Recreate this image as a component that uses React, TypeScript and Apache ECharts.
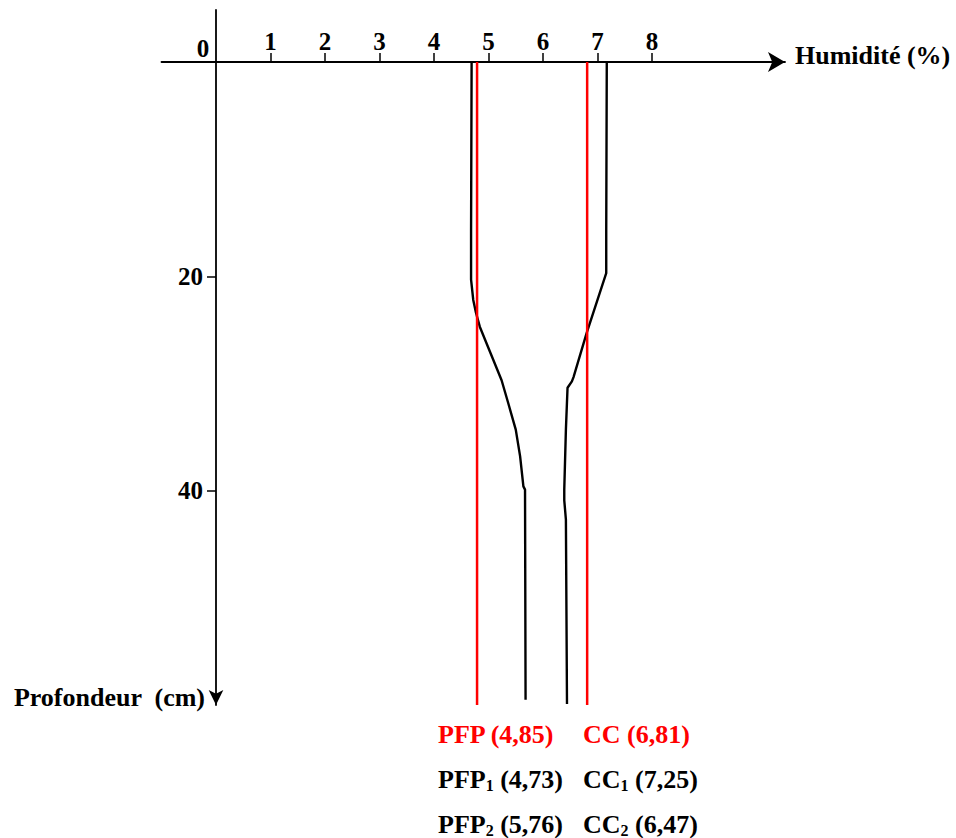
import React, { useEffect, useRef } from "react";
import * as echarts from "echarts";

// Axis ticks / labels
const xTickValues = [1, 2, 3, 4, 5, 6, 7, 8];
const xLabelValues = [0, 1, 2, 3, 4, 5, 6, 7, 8];
const yLabelValues = [20, 40];

// Profile 1 (PFP1 -> PFP2): humidity (%) vs depth (cm)
const profile1Humidity = [4.69, 4.68, 4.68, 4.72, 4.77, 4.84, 5.04, 5.24, 5.36, 5.5, 5.58, 5.64, 5.67, 5.68];
const profile1Depth = [0, 15.7, 20.3, 22.2, 23.4, 24.7, 27.2, 29.7, 31.8, 34.3, 36.8, 39.6, 39.9, 59.5];

// Profile 2 (CC1 -> CC2)
const profile2Humidity = [7.17, 7.16, 7.16, 6.8, 6.56, 6.53, 6.45, 6.42, 6.39, 6.39, 6.42, 6.44];
const profile2Depth = [0, 15.7, 19.7, 25.3, 29.4, 29.8, 30.4, 34.3, 39.9, 40.9, 42.7, 59.9];

// Reference vertical lines (red)
const pfpValue = 4.79;
const ccValue = 6.81;
const refDepthRange = [0, 60];

// Legend texts under the chart
const row1 = ["PFP (4,85)", "CC (6,81)"];
const row2 = [["PFP", "1", " (4,73)"], ["CC", "1", " (7,25)"]];
const row3 = [["PFP", "2", " (5,76)"], ["CC", "2", " (6,47)"]];

const FONT = '"Liberation Serif", "Times New Roman", serif';

function zip(xs: number[], ys: number[]) {
  return xs.map((x, i) => [x, ys[i]]);
}

export default function App() {
  const ref = useRef<HTMLDivElement>(null);
  useEffect(() => {
    if (!ref.current) return;
    const chart = echarts.init(ref.current, null, { renderer: "svg" });
    const richBase = {
      b: { fontFamily: FONT, fontWeight: "bold", fontSize: 26, lineHeight: 28, fill: "#000" },
      s: { fontFamily: FONT, fontWeight: "bold", fontSize: 16, lineHeight: 16, verticalAlign: "bottom", fill: "#000" },
    };
    const subText = (parts: string[]) => `{b|${parts[0]}}{s|${parts[1]}}{b|${parts[2]}}`;
    const col1 = 438;
    const col2 = 583;
    const plainStyle = (text: string, color: string) => ({
      text,
      fill: color,
      fontFamily: FONT,
      fontWeight: "bold",
      fontSize: 26,
      align: "left",
      verticalAlign: "middle",
    });
    const option: any = {
      animation: false,
      grid: { left: 161.5, right: 171, top: 10, bottom: 133, outerBoundsMode: "none", containLabel: false },
      xAxis: {
        type: "value",
        position: "top",
        min: -1,
        max: 10.44,
        axisLine: {
          onZero: true,
          symbol: ["none", "arrow"],
          symbolSize: [15, 17],
          lineStyle: { color: "#000", width: 1.8 },
        },
        axisTick: { show: true, length: 9, customValues: xTickValues, lineStyle: { color: "#000", width: 1.5 } },
        axisLabel: {
          customValues: xLabelValues,
          margin: -51,
          color: "#000",
          fontFamily: FONT,
          fontWeight: "bold",
          fontSize: 25,
          formatter: (v: number) => (v === 0 ? `{z|0}` : `{n|${v}}`),
          rich: {
            z: { fontFamily: FONT, fontWeight: "bold", fontSize: 25, color: "#000", padding: [0, 26, 0, 0] },
            n: { fontFamily: FONT, fontWeight: "bold", fontSize: 25, color: "#000", padding: [0, 0, 7, 0] },
          },
        },
        splitLine: { show: false },
        name: "Humidité (%)",
        nameLocation: "end",
        nameGap: 10,
        nameMoveOverlap: false,
        nameTextStyle: {
          color: "#000",
          fontFamily: FONT,
          fontWeight: "bold",
          fontSize: 26,
          align: "left",
          verticalAlign: "bottom",
          lineHeight: 12,
        },
      },
      yAxis: {
        type: "value",
        inverse: true,
        min: -4.85,
        max: 60,
        axisLine: {
          onZero: true,
          symbol: ["arrow", "none"],
          symbolSize: [11, 15],
          lineStyle: { color: "#000", width: 1.8 },
        },
        axisTick: { show: true, length: 9, customValues: yLabelValues, lineStyle: { color: "#000", width: 1.5 } },
        axisLabel: {
          customValues: yLabelValues,
          margin: -41.5,
          color: "#000",
          fontFamily: FONT,
          fontWeight: "bold",
          fontSize: 25,
        },
        splitLine: { show: false },
        name: "Profondeur  (cm)",
        nameLocation: "end",
        nameGap: -8,
        nameMoveOverlap: false,
        nameTextStyle: {
          color: "#000",
          fontFamily: FONT,
          fontWeight: "bold",
          fontSize: 26,
          align: "right",
          verticalAlign: "middle",
          padding: [0, 11, 0, 0],
        },
      },
      series: [
        {
          type: "line",
          data: zip(profile1Humidity, profile1Depth),
          symbol: "none",
          lineStyle: { color: "#000", width: 2.4 },
        },
        {
          type: "line",
          data: zip(profile2Humidity, profile2Depth),
          symbol: "none",
          lineStyle: { color: "#000", width: 2.4 },
        },
        {
          type: "line",
          data: refDepthRange.map((d) => [pfpValue, d]),
          symbol: "none",
          lineStyle: { color: "#ff0000", width: 2.5 },
        },
        {
          type: "line",
          data: refDepthRange.map((d) => [ccValue, d]),
          symbol: "none",
          lineStyle: { color: "#ff0000", width: 2.5 },
        },
      ],
      graphic: [
        { type: "text", x: col1, y: 734, style: plainStyle(row1[0], "#ff0000") },
        { type: "text", x: col2, y: 734, style: plainStyle(row1[1], "#ff0000") },
        { type: "text", x: col1, y: 779, style: { text: subText(row2[0]), rich: richBase, align: "left", verticalAlign: "middle" } },
        { type: "text", x: col2, y: 779, style: { text: subText(row2[1]), rich: richBase, align: "left", verticalAlign: "middle" } },
        { type: "text", x: col1, y: 824, style: { text: subText(row3[0]), rich: richBase, align: "left", verticalAlign: "middle" } },
        { type: "text", x: col2, y: 824, style: { text: subText(row3[1]), rich: richBase, align: "left", verticalAlign: "middle" } },
      ],
    };
    chart.setOption(option);
    return () => chart.dispose();
  }, []);
  return <div ref={ref} style={{ position: "absolute", left: 0, top: 0, width: 956, height: 838 }} />;
}
